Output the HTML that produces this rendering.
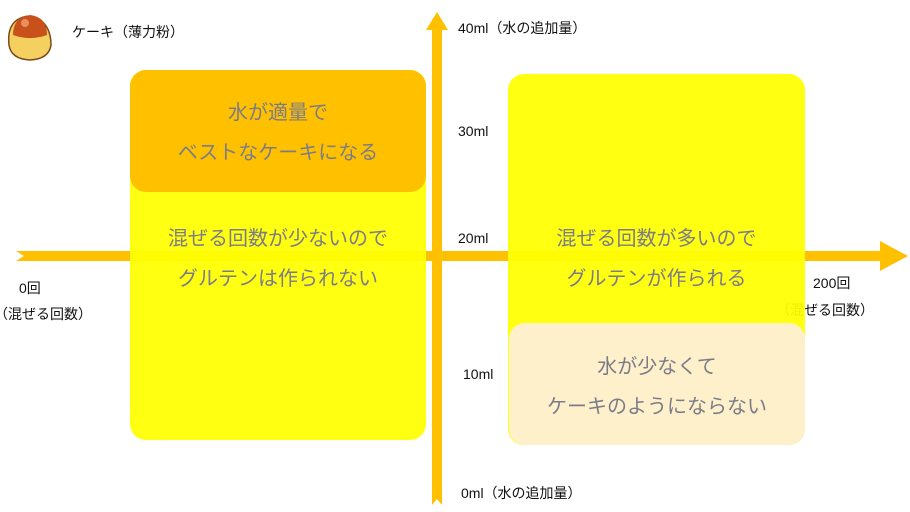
<!DOCTYPE html>
<html><head><meta charset="utf-8"><style>
body{margin:0;width:910px;height:512px;background:#fff;position:relative;overflow:hidden;font-family:"Liberation Sans","Noto Sans CJK JP",sans-serif}
.a{position:absolute}
.t{position:absolute;font-size:14px;color:#111;white-space:nowrap}
.box{position:absolute;border-radius:16px}
.g{position:absolute;color:#7c7c88;font-size:20px;text-align:center;white-space:nowrap;line-height:40px}
</style></head><body>
<svg class="a" style="left:0;top:0" width="910" height="512">
<polygon points="16,251 880,251 880,241 908,256 880,271 880,261 16,261 24,256" fill="#ffc000"/>
<polygon points="432,505 432,30 426,30 437,12 448,30 442,30 442,505 437,499" fill="#ffc000"/>
<g transform="translate(3,5)">
<path d="M6,40 Q4,22 14,15 Q25,8 36,14 Q48,22 48,40 Q46,54 27,55 Q8,54 6,40Z" fill="#f4d060" stroke="#7a4a1a" stroke-width="1.5"/>
<path d="M10,30 Q10,12 27,10 Q44,12 44,30 Q27,36 10,30Z" fill="#c8501a"/>
<circle cx="22" cy="18" r="4" fill="#e89060"/>
</g>
</svg>
<div class="t" style="left:72px;top:22px">ケーキ（薄力粉）</div>
<div class="t" style="left:458px;top:18px">40ml（水の追加量）</div>
<div class="t" style="left:458px;top:123px">30ml</div>
<div class="t" style="left:458px;top:230px">20ml</div>
<div class="t" style="left:463px;top:366px">10ml</div>
<div class="t" style="left:461px;top:483px">0ml（水の追加量）</div>
<div class="t" style="left:19px;top:278px">0回</div>
<div class="t" style="left:-6px;top:304px">（混ぜる回数）</div>
<div class="t" style="left:813px;top:273px">200回</div>
<div class="t" style="left:776px;top:300px">（混ぜる回数）</div>
<div class="box" style="left:130px;top:70px;width:296px;height:370px;background:rgba(255,255,0,0.93)"></div>
<div class="box" style="left:130px;top:70px;width:296px;height:122px;background:#ffc000"></div>
<div class="box" style="left:508px;top:74px;width:297px;height:371px;background:rgba(255,255,0,0.93)"></div>
<div class="box" style="left:509px;top:323px;width:296px;height:122px;background:#fff0cc"></div>
<div class="g" style="left:130px;width:296px;top:93px">水が適量で<br>ベストなケーキになる</div>
<div class="g" style="left:130px;width:296px;top:219px">混ぜる回数が少ないので<br>グルテンは作られない</div>
<div class="g" style="left:508px;width:297px;top:219px">混ぜる回数が多いので<br>グルテンが作られる</div>
<div class="g" style="left:509px;width:296px;top:347px">水が少なくて<br>ケーキのようにならない</div>
</body></html>
